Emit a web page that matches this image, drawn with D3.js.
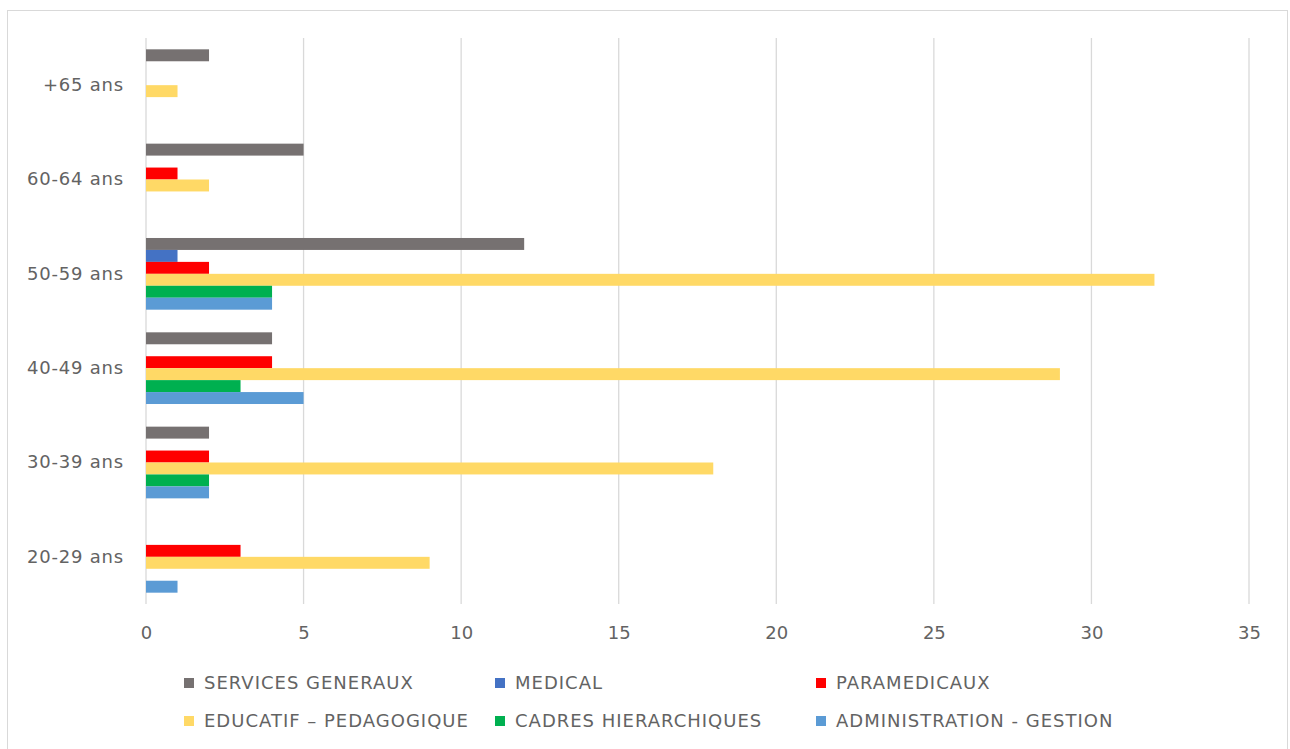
<!DOCTYPE html>
<html><head><meta charset="utf-8">
<script src="https://cdn.jsdelivr.net/npm/d3@7"></script>
<style>body{margin:0;background:#fff;} svg{display:block;font-family:"DejaVu Sans",sans-serif;}</style>
</head><body>
<svg id="c" width="1290" height="749"></svg>
<script>
const categories = ["20-29 ans","30-39 ans","40-49 ans","50-59 ans","60-64 ans","+65 ans"];
const seriesNames = ["SERVICES GENERAUX","MEDICAL","PARAMEDICAUX","EDUCATIF – PEDAGOGIQUE","CADRES HIERARCHIQUES","ADMINISTRATION - GESTION"];
const seriesColors = ["#767171","#4472c4","#ff0000","#ffd966","#00b050","#5b9bd5"];
const servicesGeneraux = [0,2,4,12,5,2];
const medical = [0,0,0,1,0,0];
const paramedicaux = [3,2,4,2,1,0];
const educatif = [9,18,29,32,2,1];
const cadres = [0,2,3,4,0,0];
const administration = [1,2,5,4,0,0];
const xTicks = [0,5,10,15,20,25,30,35];

const seriesValues = [servicesGeneraux, medical, paramedicaux, educatif, cadres, administration];
const FONT = "'DejaVu Sans',sans-serif";
const svg = d3.select("#c");
svg.append("rect").attr("x",7.5).attr("y",10.5).attr("width",1280).attr("height",760)
  .attr("fill","#fff").attr("stroke","#d9d9d9");

const x = d3.scaleLinear().domain([0,35]).range([146,1249]);
const y0 = d3.scaleBand().domain(categories.slice().reverse()).range([38,604]);
const y1 = d3.scaleBand().domain(seriesNames).range([y0.bandwidth()*0.12, y0.bandwidth()*0.88]);

svg.append("g").selectAll("line").data(xTicks).join("line")
  .attr("x1",d=>x(d)).attr("x2",d=>x(d)).attr("y1",38).attr("y2",604)
  .attr("stroke","#d9d9d9").attr("stroke-width",1.3);

const data = [];
categories.forEach((c,i)=>seriesNames.forEach((s,j)=>data.push({c,s,v:seriesValues[j][i],color:seriesColors[j]})));
svg.append("g").selectAll("rect").data(data.filter(d=>d.v>0)).join("rect")
  .attr("x",x(0)).attr("y",d=>y0(d.c)+y1(d.s)).attr("height",y1.bandwidth())
  .attr("width",d=>x(d.v)-x(0)).attr("fill",d=>d.color);

const xa = svg.append("g").attr("transform","translate(0,604)")
  .call(d3.axisBottom(x).tickValues(xTicks).tickSize(0).tickPadding(22));
xa.select(".domain").remove();
xa.selectAll("text").attr("fill","#636363").style("font-size","18px").style("font-family",FONT);

const ya = svg.append("g").attr("transform","translate(146,0)")
  .call(d3.axisLeft(y0).tickSize(0).tickPadding(22));
ya.select(".domain").remove();
ya.selectAll("text").attr("fill","#636363").style("font-size","18px").style("letter-spacing","0.8px").style("font-family",FONT);

const legX = [184,495,816];
const legY = [683,721];
const lg = svg.append("g");
seriesNames.forEach((s,i)=>{
  const col = i%3, row = Math.floor(i/3);
  const g = lg.append("g").attr("transform",`translate(${legX[col]},${legY[row]})`);
  g.append("rect").attr("x",0).attr("y",-5).attr("width",10).attr("height",10).attr("fill",seriesColors[i]);
  g.append("text").attr("x",20).attr("y",0).attr("dy","0.35em").attr("fill","#636363")
    .style("font-size","18px").style("letter-spacing","1px").style("font-family",FONT).text(s);
});
</script>
</body></html>
